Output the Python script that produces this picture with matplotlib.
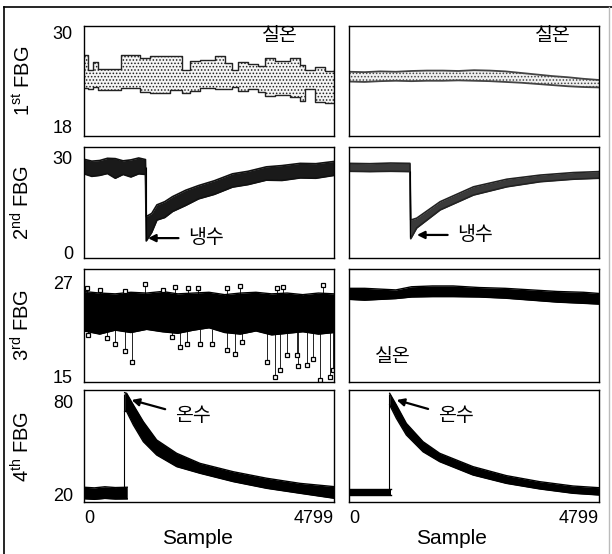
import matplotlib.pyplot as plt
from matplotlib.lines import Line2D

# Liberation Sans for latin text, Noto CJK for the Korean notes
plt.rcParams['font.family'] = ['Liberation Sans', 'Noto Sans CJK KR']
plt.rcParams['mathtext.fontset'] = 'custom'
plt.rcParams['mathtext.rm'] = 'Liberation Sans'
plt.rcParams['hatch.linewidth'] = 0.7

# ---- data (sample index, upper / lower envelope) ----

# 1st FBG, left: step-like noisy band
fbg1_l_x = [0, 80, 170, 270, 710, 1080, 1270, 1650, 1880, 2040, 2230, 2520, 2710,
            2840, 2960, 3150, 3340, 3480, 3670, 3950, 4150, 4240, 4430, 4630, 4799]
fbg1_l_hi = [27.2, 25.3, 26.3, 25.4, 27.2, 26.8, 27.0, 27.0, 25.3, 26.4, 26.6, 27.0, 26.2,
             25.3, 26.3, 26.0, 25.8, 26.8, 26.4, 26.8, 25.9, 25.3, 25.6, 25.1, 25.3]
fbg1_l_lo = [23.0, 22.8, 23.1, 22.7, 23.0, 22.5, 22.4, 22.7, 22.3, 22.6, 23.0, 22.8, 22.9,
             23.1, 22.6, 22.9, 22.5, 21.9, 22.1, 21.8, 21.3, 22.9, 21.2, 21.0, 21.1]

# 1st FBG, right: thin band
fbg1_r_x = [0, 300, 600, 900, 1200, 1500, 1800, 2100, 2400, 2700, 3000, 3300, 3600,
            3900, 4200, 4500, 4799]
fbg1_r_hi = [25.05, 25.0, 25.1, 25.05, 25.15, 25.2, 25.2, 25.15, 25.25, 25.2, 25.1,
             24.9, 24.7, 24.5, 24.35, 24.15, 24.0]
fbg1_r_lo = [23.8, 23.75, 23.85, 23.9, 23.85, 23.9, 23.9, 23.95, 23.9, 23.85, 23.75,
             23.65, 23.5, 23.35, 23.2, 23.1, 23.05]

# 2nd FBG (cold water), left
fbg2_l_x = [0, 150, 300, 450, 600, 750, 900, 1050, 1180, 1195, 1300, 1400, 1550, 1700,
            1950, 2200, 2500, 2850, 3150, 3500, 3800, 4150, 4450, 4799]
fbg2_l_hi = [29.6, 29.0, 29.2, 29.9, 29.8, 29.1, 29.4, 30.0, 29.5, 11.5, 12.5, 15.2, 16.2,
             17.8, 19.8, 21.3, 22.8, 25.0, 25.8, 27.2, 27.6, 28.3, 28.2, 28.9]
fbg2_l_lo = [25.0, 24.2, 24.5, 25.1, 23.6, 24.8, 24.0, 25.0, 24.8, 3.8, 6.5, 10.4, 11.2,
             13.1, 15.0, 17.1, 18.5, 20.8, 21.6, 23.0, 22.9, 23.7, 23.6, 24.5]

# 2nd FBG (cold water), right
fbg2_r_x = [0, 400, 800, 1170, 1185, 1300, 1750, 2390, 3030, 3670, 4310, 4799]
fbg2_r_hi = [28.3, 28.2, 28.4, 28.3, 10.4, 11.0, 16.2, 20.9, 23.3, 24.6, 25.4, 25.7]
fbg2_r_lo = [25.8, 25.7, 25.8, 25.7, 4.5, 7.9, 13.6, 18.3, 20.9, 22.5, 23.3, 23.6]

# 3rd FBG, left: dense noisy band plus scattered outliers
fbg3_l_x = [0, 300, 600, 900, 1200, 1500, 1800, 2100, 2400, 2700, 3000, 3300, 3600,
            3900, 4200, 4500, 4799]
fbg3_l_hi = [25.8, 25.6, 25.5, 25.7, 25.6, 25.8, 25.5, 25.6, 25.7, 25.4, 25.6, 25.7,
             25.5, 25.6, 25.4, 25.6, 25.5]
fbg3_l_lo = [20.8, 20.4, 20.9, 20.6, 21.0, 20.7, 20.5, 20.9, 21.2, 20.6, 20.4, 20.8,
             20.3, 20.5, 20.7, 20.4, 20.6]
out_hi_x = [64, 307, 787, 1171, 1523, 1747, 2003, 2195, 2739, 2995, 3699, 3827, 4595]
out_hi_y = [26.2, 26.0, 25.9, 26.8, 26.0, 26.4, 26.2, 26.2, 26.2, 26.5, 26.2, 26.4, 26.6]
out_lo_x = [83, 435, 595, 787, 915, 1683, 1843, 1971, 2227, 2451, 2739, 2899, 3027,
            3507, 3667, 3763, 3891, 4083, 4115, 4275, 4403, 4531, 4723, 4787]
out_lo_y = [20.3, 19.9, 19.2, 18.2, 16.9, 20.0, 18.8, 19.2, 19.1, 19.2, 18.4, 17.9, 19.4,
            16.9, 15.0, 15.9, 17.8, 17.8, 16.3, 16.5, 17.3, 14.6, 15.0, 15.9]

# 3rd FBG, right: thick smooth band
fbg3_r_x = [0, 300, 600, 900, 1200, 1600, 2000, 2500, 3000, 3500, 4000, 4500, 4799]
fbg3_r_hi = [26.2, 26.2, 26.1, 26.0, 26.4, 26.5, 26.5, 26.3, 26.2, 26.0, 25.8, 25.7, 25.55]
fbg3_r_lo = [24.8, 24.7, 24.8, 24.9, 25.1, 25.15, 25.15, 25.1, 24.95, 24.7, 24.45, 24.3, 24.2]

# 4th FBG (hot water), left
fbg4_l_base_x = [0, 200, 400, 600, 830]
fbg4_l_base_hi = [25.0, 24.6, 25.3, 24.8, 25.0]
fbg4_l_base_lo = [17.6, 17.2, 17.8, 17.4, 17.5]
fbg4_l_x = [780, 819, 947, 1139, 1395, 1779, 2227, 2867, 3507, 4147, 4799]
fbg4_l_hi = [86.0, 85.6, 78.1, 67.3, 55.5, 46.9, 40.4, 35.0, 30.8, 27.5, 25.4]
fbg4_l_lo = [74.0, 73.8, 65.2, 54.4, 45.8, 38.3, 34.0, 28.6, 24.3, 21.1, 17.9]

# 4th FBG (hot water), right
fbg4_r_base_x = [0, 300, 600, 813]
fbg4_r_base_hi = [23.9, 23.9, 23.9, 23.9]
fbg4_r_base_lo = [20.0, 20.0, 20.0, 20.0]
fbg4_r_x = [781, 909, 1101, 1421, 1741, 2380, 3020, 3660, 4300, 4799]
fbg4_r_hi = [85.6, 78.1, 66.2, 54.4, 46.9, 38.3, 32.5, 28.6, 25.8, 24.7]
fbg4_r_lo = [78.1, 69.5, 58.7, 47.9, 41.5, 32.9, 27.5, 23.9, 21.1, 20.0]

# axis settings per row
row_labels = ['1$^{\\mathrm{st}}$ FBG', '2$^{\\mathrm{nd}}$ FBG',
              '3$^{\\mathrm{rd}}$ FBG', '4$^{\\mathrm{th}}$ FBG']
row_ticks = [(18, 30), (0, 30), (15, 27), (20, 80)]
row_ylims = [(16.85, 30.89), (-1.58, 33.47), (14.33, 28.65), (15.48, 87.74)]
x_ticks = [0, 4799]


def band(ax, x, lo, hi, face, edge, lw=1.0, hatch=None, step=None):
    """Fill a noisy band and outline its edges."""
    ax.fill_between(x, lo, hi, facecolor=face, edgecolor=edge, linewidth=0,
                    hatch=hatch, step=step)
    ds = 'steps-post' if step == 'post' else 'default'
    ax.plot(x, hi, color=edge, lw=lw, drawstyle=ds)
    ax.plot(x, lo, color=edge, lw=lw, drawstyle=ds)


W, H = 612, 554
fig = plt.figure(figsize=(W / 100, H / 100), dpi=100)

col_left = [84, 349]
rows_px = [(26, 136), (147, 258), (269, 382), (390, 502)]

axes = []
for r, (top, bot) in enumerate(rows_px):
    row = []
    for c, left in enumerate(col_left):
        ax = fig.add_axes([left / W, 1 - bot / H, 250 / W, (bot - top) / H])
        ax.set_xlim(0, 4799)
        ax.set_ylim(*row_ylims[r])
        for sp in ax.spines.values():
            sp.set_linewidth(1.0)
        ax.tick_params(length=0, labelsize=13)
        if c == 0:
            ax.set_yticks(row_ticks[r])
            ax.tick_params(axis='y', pad=8)
            ax.set_ylabel(row_labels[r], fontsize=14.5)
            ax.yaxis.set_label_coords(-0.2, 0.5)
        else:
            ax.set_yticks([])
        if r == 3:
            ax.set_xticks(x_ticks)
            ax.tick_params(axis='x', pad=6)
            labels = ax.get_xticklabels()
            labels[0].set_horizontalalignment('left')
            labels[1].set_horizontalalignment('right')
            ax.set_xlabel('Sample', fontsize=15)
        else:
            ax.set_xticks([])
        row.append(ax)
    axes.append(row)

axes[3][0].xaxis.set_label_coords(0.452, -0.24)
axes[3][1].xaxis.set_label_coords(0.408, -0.24)

# row 1
band(axes[0][0], fbg1_l_x, fbg1_l_lo, fbg1_l_hi, '#f4f4f4', '#222222',
     lw=1.0, hatch='.....', step='post')
band(axes[0][1], fbg1_r_x, fbg1_r_lo, fbg1_r_hi, '#f0f0f0', '#444444',
     lw=1.3, hatch='.....')

# row 2
band(axes[1][0], fbg2_l_x, fbg2_l_lo, fbg2_l_hi, '#1a1a1a', '#111111', lw=1.2)
band(axes[1][1], fbg2_r_x, fbg2_r_lo, fbg2_r_hi, '#3a3a3a', '#222222', lw=1.2)

# row 3
band(axes[2][0], fbg3_l_x, fbg3_l_lo, fbg3_l_hi, '#000000', '#000000', lw=1.0)
axes[2][0].vlines(out_hi_x, 25.3, out_hi_y, color='black', lw=0.6)
axes[2][0].vlines(out_lo_x, out_lo_y, 21.0, color='black', lw=0.6)
axes[2][0].plot(out_hi_x, out_hi_y, 's', ms=3.2, mfc='white', mec='black', mew=0.9)
axes[2][0].plot(out_lo_x, out_lo_y, 's', ms=3.2, mfc='white', mec='black', mew=0.9)
band(axes[2][1], fbg3_r_x, fbg3_r_lo, fbg3_r_hi, '#000000', '#000000', lw=1.0)

# row 4
band(axes[3][0], fbg4_l_base_x, fbg4_l_base_lo, fbg4_l_base_hi, '#000000', '#000000')
band(axes[3][0], fbg4_l_x, fbg4_l_lo, fbg4_l_hi, '#000000', '#000000')
axes[3][0].vlines(770, 21, 85, color='black', lw=0.8)
band(axes[3][1], fbg4_r_base_x, fbg4_r_base_lo, fbg4_r_base_hi, '#000000', '#000000')
band(axes[3][1], fbg4_r_x, fbg4_r_lo, fbg4_r_hi, '#000000', '#000000')
axes[3][1].vlines(768, 22, 85, color='black', lw=0.8)
axes[1][0].vlines(1184, 4, 27, color='black', lw=0.8)
axes[1][1].vlines(1177, 5, 26, color='black', lw=0.8)

# annotations
note = dict(fontsize=14, va='center')
arrow = dict(arrowstyle='-|>', color='black', lw=1.6, mutation_scale=11,
             shrinkA=5, shrinkB=0)
axes[0][0].text(3762, 29.5, '실온', ha='center', **note)
axes[0][1].text(3916, 29.5, '실온', ha='center', **note)
axes[2][1].text(845, 17.4, '실온', ha='center', **note)
axes[1][0].annotate('냉수', xy=(1229, 4.7), xytext=(2000, 4.7), ha='left',
                    arrowprops=arrow, **note)
axes[1][1].annotate('냉수', xy=(1305, 5.7), xytext=(2080, 5.7), ha='left',
                    arrowprops=arrow, **note)
axes[3][0].annotate('온수', xy=(915, 81.3), xytext=(1740, 70.5), ha='left',
                    arrowprops=arrow, **note)
axes[3][1].annotate('온수', xy=(915, 81.3), xytext=(1700, 70.5), ha='left',
                    arrowprops=arrow, **note)

# outer frame of the scanned figure
fig.add_artist(Line2D([4 / W, 4 / W], [0, 1 - 7 / H], color='black', lw=1.2))
fig.add_artist(Line2D([4 / W, 1], [1 - 7 / H, 1 - 7 / H], color='black', lw=1.2))
fig.add_artist(Line2D([609 / W, 609 / W], [0, 1 - 7 / H], color='#bbbbbb', lw=1.0))

fig.savefig('out.png', dpi=100)
